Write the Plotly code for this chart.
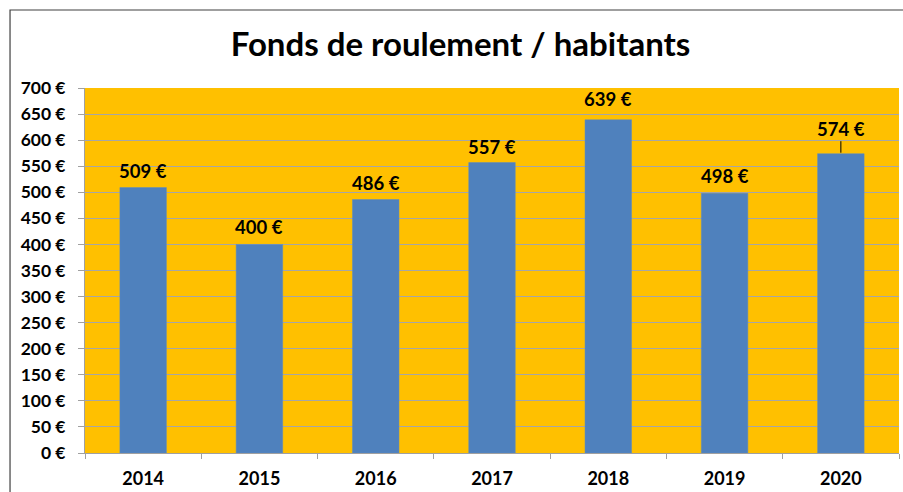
import plotly.graph_objects as go

years = ["2014", "2015", "2016", "2017", "2018", "2019", "2020"]
values = [509, 400, 486, 557, 639, 498, 574]
label_shift = [4, 4, 4, 3, 8, 4, 4]
leader_len = [0, 0, 0, 0, 0, 0, 11]
ytick_vals = list(range(0, 701, 50))
ytick_text = [f"<b>{v} €</b>" for v in ytick_vals]

FONT = "Lato, 'Open Sans', sans-serif"

fig = go.Figure()
fig.add_trace(go.Bar(
    x=years, y=values,
    marker=dict(color="#4F81BD", line=dict(color="#5A8AC6", width=0.5)),
    width=0.4,
    hoverinfo="x+y",
))

for i, (v, s, L) in enumerate(zip(values, label_shift, leader_len)):
    if L:
        fig.add_annotation(
            x=i, y=v, xref="x", yref="y",
            text=f"<b>{v} €</b>", showarrow=True,
            arrowhead=0, arrowwidth=1, arrowcolor="black",
            ax=0, ay=-(L + 14), standoff=1,
            font=dict(family=FONT, size=18.5, color="black"),
        )
    else:
        fig.add_annotation(
            x=i, y=v, xref="x", yref="y",
            text=f"<b>{v} €</b>", showarrow=False,
            yanchor="bottom", yshift=s,
            font=dict(family=FONT, size=18.5, color="black"),
        )

# chart border
fig.add_shape(
    type="rect", xref="paper", yref="paper",
    x0=-0.0921, x1=1.2, y0=-0.3, y1=1.2137,
    line=dict(color="#404040", width=1.2), fillcolor="rgba(0,0,0,0)",
    layer="below",
)

fig.update_layout(
    width=903, height=492,
    margin=dict(l=85, r=4, t=88, b=39, autoexpand=False),
    paper_bgcolor="white",
    plot_bgcolor="#FFC000",
    showlegend=False,
    title=dict(
        text="<b>Fonds de roulement / habitants</b>",
        x=0.51, xanchor="center", y=0.909, yanchor="middle",
        font=dict(family=FONT, size=33, color="black"),
    ),
    bargap=0.6,
    font=dict(family=FONT, color="black"),
)

fig.update_yaxes(
    range=[0, 700],
    tickvals=ytick_vals, ticktext=ytick_text,
    tickfont=dict(family=FONT, size=17.5, color="black"),
    ticks="outside", ticklen=6, tickcolor="#A0A0A0",
    showgrid=True, gridcolor="#A6A6A6", gridwidth=1,
    showline=True, linecolor="#A0A0A0", linewidth=1,
    zeroline=False, automargin=False,
    ticklabelstandoff=9,
)
fig.update_xaxes(
    type="category",
    categoryorder="array", categoryarray=years,
    range=[-0.5, len(years) - 0.5],
    tickangle=0,
    tickfont=dict(family=FONT, size=18, color="black"),
    tickprefix="<b>", ticksuffix="</b>",
    ticks="outside", ticklen=5, tickcolor="#A0A0A0",
    tickson="boundaries",
    showline=True, linecolor="#A0A0A0", linewidth=1,
    automargin=False,
    ticklabelstandoff=9,
)

fig.write_html("out.html", config={"displayModeBar": False},
               post_script="document.body.style.margin='0';")
